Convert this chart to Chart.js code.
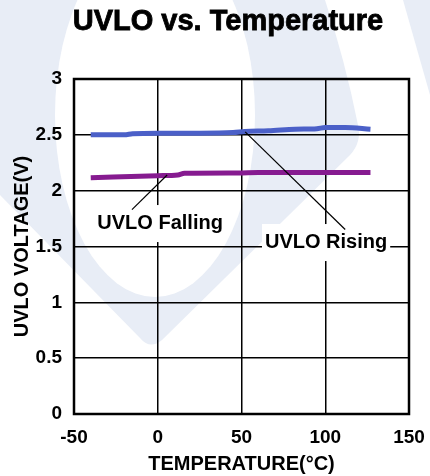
<!DOCTYPE html>
<html>
<head>
<meta charset="utf-8">
<title>UVLO vs. Temperature</title>
<script src="https://cdn.jsdelivr.net/npm/chart.js@4.4.1/dist/chart.umd.min.js"></script>
<style>
    html, body { margin: 0; padding: 0; background: #fff; }
    #wrap { width: 430px; height: 476px; position: relative; }
</style>
</head>
<body>
<div id="wrap"><canvas id="uvloChart"></canvas></div>
<script>
// temperature (°C) and threshold voltage (V) for each curve
const risingTemps = [-40, -20, -15, 0, 25, 45, 52, 66, 82, 95, 100, 112, 127];
const risingVolts = [2.50, 2.50, 2.51, 2.515, 2.515, 2.52, 2.53, 2.536, 2.55, 2.555, 2.565, 2.565, 2.55];
const fallingTemps = [-40, 0, 12, 16, 48, 60, 127];
const fallingVolts = [2.115, 2.134, 2.14, 2.155, 2.158, 2.163, 2.163];

const xTicks = [-50, 0, 50, 100, 150];
const yTicks = [0, 0.5, 1, 1.5, 2, 2.5, 3];

// callout labels: text position and the two ends of the leader line, in data units
const callouts = [
    { text: 'UVLO Falling', at: [1.4, 1.71], from: [-15.4, 1.83], to: [5.6, 2.14] },
    { text: 'UVLO Rising', at: [100.5, 1.54], from: [111.9, 1.652], to: [52.2, 2.527] }
];

const chartTitle = 'UVLO vs. Temperature';

const FONT = "'Liberation Sans', Arial, Helvetica, sans-serif";
Chart.defaults.font.family = FONT;
Chart.defaults.color = '#000';

function toPoints(xs, ys) {
    return xs.map((x, i) => ({ x: x, y: ys[i] }));
}

// faint logo shapes behind everything, plus the heading
const watermark = {
    id: 'watermark',
    beforeDraw(chart) {
        const ctx = chart.ctx;
        ctx.save();
        ctx.fillStyle = '#fff';
        ctx.fillRect(0, 0, chart.width, chart.height);
        ctx.fillStyle = '#e8edf6';
        ctx.beginPath();
        ctx.moveTo(0, 0);
        ctx.lineTo(325, 0);
        ctx.quadraticCurveTo(345, 60, 358, 125);
        ctx.quadraticCurveTo(362, 142, 350, 155);
        ctx.lineTo(162, 340);
        ctx.quadraticCurveTo(150, 350, 140, 338);
        ctx.lineTo(0, 195);
        ctx.closePath();
        ctx.fill();
        ctx.fillStyle = '#fff';
        ctx.beginPath();
        ctx.ellipse(155, 115, 100, 182, 0, 0, Math.PI * 2);
        ctx.fill();
        ctx.fillStyle = '#e8edf6';
        ctx.beginPath();
        ctx.moveTo(403, 0);
        ctx.lineTo(430, 0);
        ctx.lineTo(430, 95);
        ctx.closePath();
        ctx.fill();

        // heading, slightly heavier than plain bold
        ctx.font = 'bold 29px ' + FONT;
        ctx.textAlign = 'center';
        ctx.textBaseline = 'middle';
        ctx.fillStyle = '#000';
        ctx.strokeStyle = '#000';
        ctx.lineWidth = 0.8;
        ctx.fillText(chartTitle, 228, 22);
        ctx.strokeText(chartTitle, 228, 22);
        ctx.restore();
    }
};

// plot frame, label boxes and leader lines
const callout = {
    id: 'callout',
    beforeDatasetsDraw(chart) {
        const ctx = chart.ctx;
        const xs = chart.scales.x, ys = chart.scales.y;
        const a = chart.chartArea;
        ctx.save();
        ctx.strokeStyle = '#000';
        ctx.lineWidth = 2.5;
        ctx.strokeRect(a.left, a.top, a.right - a.left, a.bottom - a.top);
        ctx.font = 'bold 20px ' + FONT;
        ctx.textAlign = 'center';
        ctx.textBaseline = 'middle';
        callouts.forEach(c => {
            const cx = xs.getPixelForValue(c.at[0]);
            const cy = ys.getPixelForValue(c.at[1]);
            const w = ctx.measureText(c.text).width + 6;
            ctx.fillStyle = '#fff';
            ctx.fillRect(cx - w / 2, cy - 18, w, 37);
            ctx.fillStyle = '#000';
            ctx.fillText(c.text, cx, cy);
        });
        ctx.restore();
    },
    afterDatasetsDraw(chart) {
        const ctx = chart.ctx;
        const xs = chart.scales.x, ys = chart.scales.y;
        ctx.save();
        ctx.strokeStyle = '#000';
        ctx.lineWidth = 1.2;
        callouts.forEach(c => {
            ctx.beginPath();
            ctx.moveTo(xs.getPixelForValue(c.from[0]), ys.getPixelForValue(c.from[1]));
            ctx.lineTo(xs.getPixelForValue(c.to[0]), ys.getPixelForValue(c.to[1]));
            ctx.stroke();
        });
        ctx.restore();
    }
};

const ctx = document.getElementById('uvloChart').getContext('2d');
const uvloChart = new Chart(ctx, {
    type: 'line',
    data: {
        datasets: [{
            label: 'UVLO Rising',
            data: toPoints(risingTemps, risingVolts),
            borderColor: '#4b60c8',
            borderWidth: 5,
            pointRadius: 0,
            cubicInterpolationMode: 'monotone'
        }, {
            label: 'UVLO Falling',
            data: toPoints(fallingTemps, fallingVolts),
            borderColor: '#861b90',
            borderWidth: 5,
            pointRadius: 0,
            cubicInterpolationMode: 'monotone'
        }]
    },
    options: {
        responsive: true,
        maintainAspectRatio: false,
        animation: false,
        layout: { padding: { left: 0, right: 21, top: 79, bottom: 0 } },
        plugins: {
            legend: { display: false },
            tooltip: { enabled: false },
            title: { display: false }
        },
        scales: {
            x: {
                type: 'linear',
                min: -50,
                max: 150,
                afterBuildTicks: s => { s.ticks = xTicks.map(v => ({ value: v })); },
                afterFit: s => { s.height = 62; s.paddingLeft = 0; s.paddingRight = 0; },
                ticks: { font: { size: 19, weight: 'bold' }, padding: 12, color: '#000', callback: v => String(v) },
                grid: { color: '#000', lineWidth: 1.5, drawTicks: false, tickLength: 0 },
                border: { display: false },
                title: {
                    display: true,
                    text: 'TEMPERATURE(°C)',
                    font: { size: 20, weight: 'bold' },
                    padding: { top: 1, bottom: 0 }
                }
            },
            y: {
                min: 0,
                max: 3,
                afterBuildTicks: s => { s.ticks = yTicks.map(v => ({ value: v })); },
                afterFit: s => { s.width = 74; s.paddingTop = 0; s.paddingBottom = 0; },
                ticks: { font: { size: 19, weight: 'bold' }, padding: 12, color: '#000', callback: v => String(v) },
                grid: { color: '#000', lineWidth: 1.5, drawTicks: false, tickLength: 0 },
                border: { display: false },
                title: {
                    display: true,
                    text: 'UVLO VOLTAGE(V)',
                    font: { size: 20, weight: 'bold' },
                    padding: { top: 10, bottom: 0 }
                }
            }
        }
    },
    plugins: [watermark, callout]
});
</script>
</body>
</html>
